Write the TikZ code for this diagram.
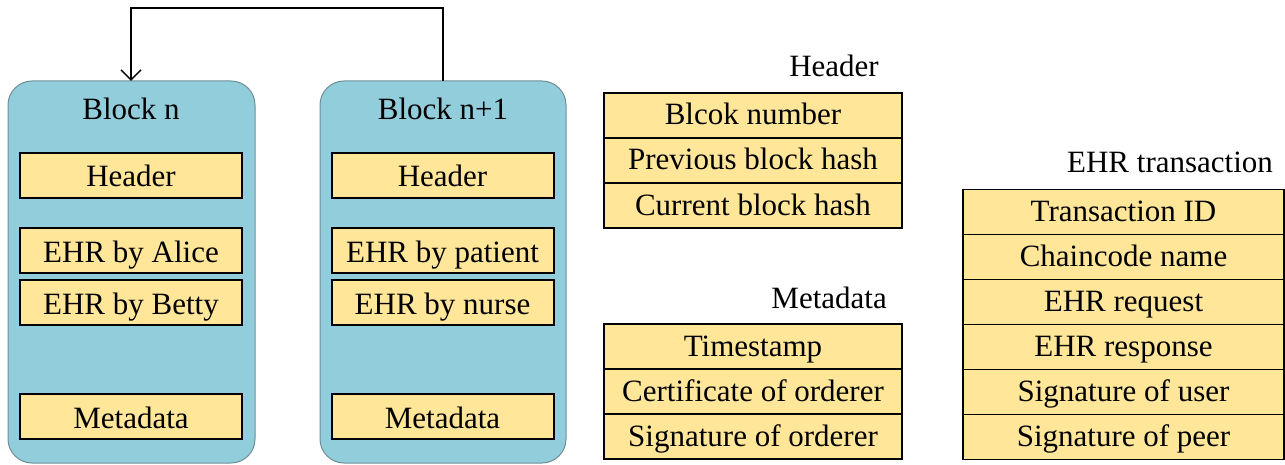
\documentclass[tikz,border=0pt]{standalone}
\usepackage{fontspec}
\setmainfont{Liberation Serif}
\usetikzlibrary{arrows.meta}
\definecolor{blockblue}{HTML}{92CDDC}
\definecolor{fieldyellow}{HTML}{FFE699}
\definecolor{blockedge}{HTML}{6F8E97}
\tikzset{
  txt/.style={font=\fontsize{31}{36}\selectfont, text height=25pt, text depth=6pt},
  chainblock/.style={draw=blockedge, line width=1pt, fill=blockblue, rounded corners=24pt},
  field/.style={txt, text height=28pt, text depth=5pt, draw=black, line width=2pt, fill=fieldyellow, minimum width=222pt, minimum height=45pt, inner sep=0pt},
  row/.style={txt, draw=black, line width=1.5pt, fill=fieldyellow, inner sep=0pt, minimum height=45pt},
  hdrrow/.style={row, minimum width=298pt},
  txrow/.style={row, minimum width=321pt},
  caption/.style={txt, inner sep=0pt},
  link/.style={draw=black, line width=1.5pt, -{Straight Barb[length=10pt,width=20pt,line width=1.5pt]}}
}
\begin{document}
\begin{tikzpicture}[x=1pt,y=-1pt]
\useasboundingbox (0,0) rectangle (1285,465);

% the two chained blocks
\draw[chainblock] (8,81) rectangle (255,463);
\draw[chainblock] (320,81) rectangle (566,463);
\coordinate (topn) at (131,81);
\coordinate (topm) at (443,81);
\node[caption] (tn) at (131,110.5) {Block n};
\node[caption] (tm) at (443,110.5) {Block n+1};

\node[field] (hn) at (131,175.5) {Header};
\node[field] (an) at (131,250.5) {EHR by Alice};
\node[field] (bn) at (131,302.5) {EHR by Betty};
\node[field] (mn) at (131,416.5) {Metadata};

\node[field] (hm) at (442.5,175.5) {Header};
\node[field] (pm) at (442.5,250.5) {EHR by patient};
\node[field] (um) at (442.5,302.5) {EHR by nurse};
\node[field] (mm) at (442.5,416.5) {Metadata};

% hash link back to the previous block
\draw[link] (topm) -- (443,8) -- (131,8) -- (topn);

% header fields
\node[caption, anchor=east] (hcap) at (879,67.5) {Header};
\node[hdrrow] (h1) at (753,115.5) {Blcok number};
\node[hdrrow] (h2) at (753,160.5) {Previous block hash};
\node[hdrrow] (h3) at (753,205.5) {Current block hash};

% metadata fields
\node[caption, anchor=east] (mcap) at (887,299) {Metadata};
\node[hdrrow] (m1) at (753,346.5) {Timestamp};
\node[hdrrow] (m2) at (753,391.5) {Certificate of orderer};
\node[hdrrow] (m3) at (753,436.5) {Signature of orderer};

% transaction fields
\node[caption] (tcap) at (1170,163.5) {EHR transaction};
\node[txrow] (t1) at (1123.5,212) {Transaction ID};
\node[txrow] (t2) at (1123.5,257) {Chaincode name};
\node[txrow] (t3) at (1123.5,302) {EHR request};
\node[txrow] (t4) at (1123.5,347) {EHR response};
\node[txrow] (t5) at (1123.5,392) {Signature of user};
\node[txrow] (t6) at (1123.5,437) {Signature of peer};
\end{tikzpicture}
\end{document}
